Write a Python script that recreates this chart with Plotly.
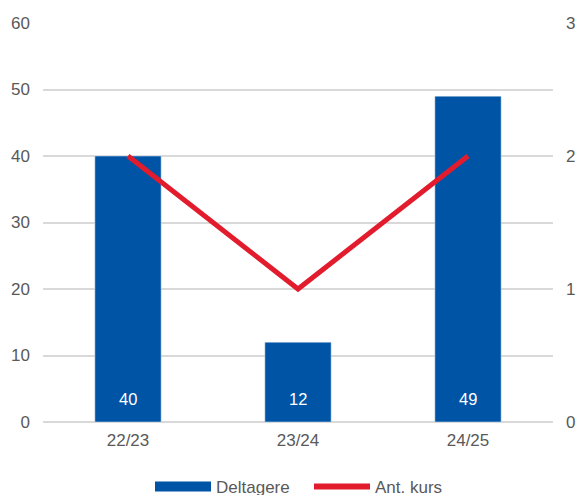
import plotly.graph_objects as go

categories = ["22/23", "23/24", "24/25"]
deltagere = [40, 12, 49]
ant_kurs = [2, 1, 2]

BLUE = "#0054A6"
RED = "#E31C2D"
FONT = "Liberation Sans, Arial, sans-serif"
TICK = "#595959"
FS = 17

fig = go.Figure()
fig.add_trace(go.Bar(x=categories, y=deltagere, name="Deltagere", marker_color=BLUE,
                     width=0.39, showlegend=False))
fig.add_trace(go.Scatter(x=categories, y=ant_kurs, name="Ant. kurs", yaxis="y2",
                         mode="lines", line=dict(color=RED, width=5), showlegend=False))
# legend proxies
fig.add_trace(go.Scatter(x=[None], y=[None], name="Deltagere", mode="lines",
                         line=dict(color=BLUE, width=10)))
fig.add_trace(go.Scatter(x=[None], y=[None], name="Ant. kurs", mode="lines",
                         line=dict(color=RED, width=6), yaxis="y2"))

for c, v in zip(categories, deltagere):
    fig.add_annotation(x=c, y=0, text=str(v), showarrow=False, yanchor="bottom",
                       yshift=12, font=dict(color="white", size=16.5, family=FONT))

fig.update_layout(
    width=583, height=495,
    margin=dict(l=43, r=30, t=23, b=73, autoexpand=False),
    plot_bgcolor="white", paper_bgcolor="white",
    font=dict(family=FONT, size=FS, color=TICK),
    xaxis=dict(showgrid=False, showline=False, ticks="", automargin=False,
               tickfont=dict(size=FS, color=TICK), ticklabelstandoff=6),
    yaxis=dict(range=[0, 60], dtick=10, showgrid=True, gridcolor="#D9D9D9", gridwidth=1.5,
               zeroline=True, zerolinecolor="#D9D9D9", zerolinewidth=1.5, automargin=False,
               tickfont=dict(size=FS, color=TICK), ticklabelstandoff=12),
    yaxis2=dict(range=[0, 3], dtick=1, overlaying="y", side="right", showgrid=False,
                zeroline=False, automargin=False, tickfont=dict(size=FS, color=TICK),
                ticklabelstandoff=12),
    legend=dict(orientation="h", xref="container", yref="container",
                x=150 / 583, xanchor="left", y=8 / 495, yanchor="middle",
                font=dict(size=FS, color=TICK), itemwidth=56, entrywidth=88,
                traceorder="normal"),
)

fig.write_html("out.html", config={"displayModeBar": False},
               post_script="document.body.style.margin='0';")
